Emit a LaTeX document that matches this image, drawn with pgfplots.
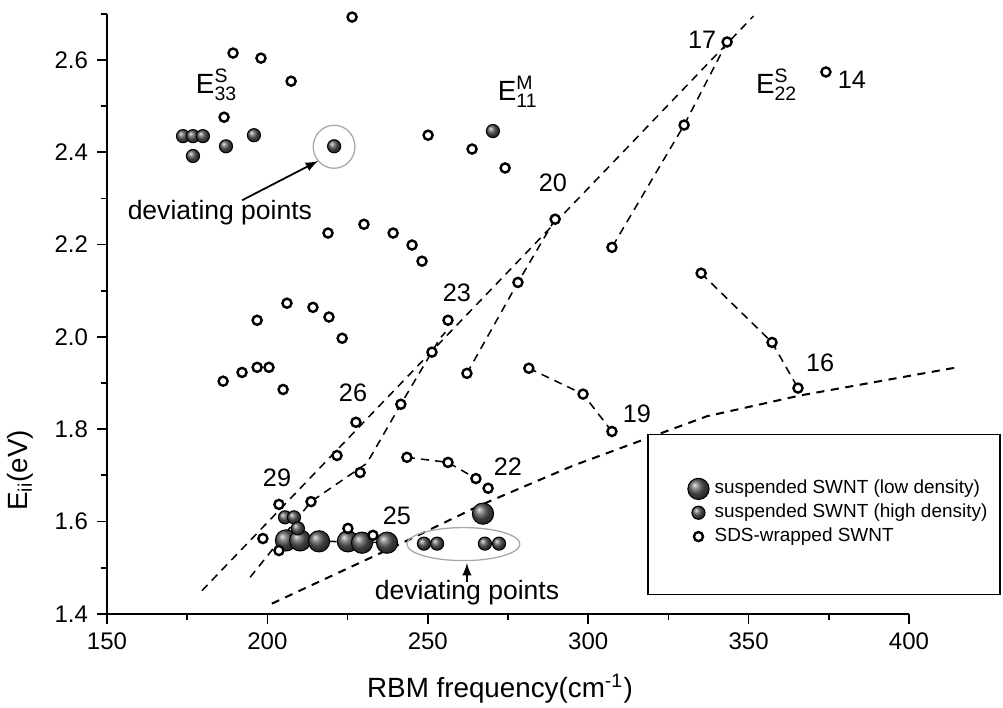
\documentclass[border=0pt]{standalone}
\usepackage{fontspec}
\setmainfont{Liberation Sans}
\usepackage{amsmath}
\usepackage{pgfplots}
\pgfplotsset{compat=1.18}

\begin{document}
\begin{tikzpicture}
\begin{axis}[
  scale only axis, width=317.5pt, height=237.5pt,
  xmin=150, xmax=400, ymin=1.4, ymax=2.7,
  axis lines=left, axis line style={-, line width=0.7pt},
  tick align=outside, major tick length=4pt, minor tick length=2.5pt,
  tick style={line width=0.7pt, black},
  xtick={150,200,250,300,350,400}, minor xtick={175,225,275,325,375},
  ytick={1.4,1.6,1.8,2.0,2.2,2.4,2.6}, minor ytick={1.5,1.7,1.9,2.1,2.3,2.5,2.7},
  yticklabel style={/pgf/number format/.cd, fixed, fixed zerofill, precision=1},
  /pgf/number format/assume math mode=true,
  ticklabel style={font=\fontsize{9.5}{11}\selectfont},
  clip=false,
  legend style={at={(0.723,0.232)}, anchor=north west, draw=none, fill=none,
    font=\fontsize{7.5}{9}\selectfont, row sep=-1.5pt, inner sep=0pt},
  legend cell align=left,
]
% family lines
\addplot[forget plot, black, line width=0.6pt, dash pattern=on 3.2pt off 2.4pt]
  coordinates {(179.6,1.450) (351.5,2.695)};
\addplot[forget plot, black, line width=0.6pt, dash pattern=on 3.2pt off 2.4pt]
  coordinates {(194.6,1.479) (213.6,1.643) (231.0,1.726) (241.6,1.854) (253.8,1.997) (255.5,2.010)};
\addplot[forget plot, black, line width=0.6pt, dash pattern=on 3.2pt off 2.4pt]
  coordinates {(343.3,2.639) (329.9,2.459) (307.4,2.194)};
\addplot[forget plot, black, line width=0.6pt, dash pattern=on 3.2pt off 2.4pt]
  coordinates {(289.7,2.255) (278.1,2.118) (262.2,1.921)};
\addplot[forget plot, black, line width=0.6pt, dash pattern=on 3.2pt off 2.4pt]
  coordinates {(281.5,1.932) (298.4,1.876) (307.4,1.795)};
\addplot[forget plot, black, line width=0.6pt, dash pattern=on 3.2pt off 2.4pt]
  coordinates {(335.2,2.138) (357.3,1.988) (365.4,1.889)};
\addplot[forget plot, black, line width=0.6pt, dash pattern=on 3.2pt off 2.4pt]
  coordinates {(243.5,1.739) (256.3,1.728) (265.0,1.693) (268.8,1.672)};
\addplot[forget plot, black, line width=0.6pt, dash pattern=on 3.2pt off 2.4pt]
  coordinates {(205.8,1.559) (237.3,1.554)};
% lower envelope
\addplot[forget plot, black, line width=0.8pt, dash pattern=on 3.2pt off 2.6pt]
  coordinates {(201.4,1.422) (240.4,1.548) (266.3,1.635) (295.3,1.721)
               (318.3,1.780) (337.0,1.828) (366.0,1.873) (415.0,1.934)};

% legend frame
\draw[line width=0.5pt, fill=white] (axis cs:318.6,1.442) rectangle (axis cs:428.4,1.789);

% suspended, low density
\addplot[only marks, mark=ball, mark size=4.2pt, ball color=black!65,
  mark options={ball color=black!65}]
  coordinates {(205.8,1.559) (210.2,1.559) (216.1,1.557) (225.1,1.557)
               (229.5,1.554) (237.3,1.554) (267.2,1.617)};
\addlegendentry{suspended SWNT (low density)}

% suspended, high density
\addplot[only marks, mark=ball, mark size=2.6pt, ball color=black!65,
  mark options={ball color=black!65}]
  coordinates {(173.7,2.435) (176.8,2.435) (179.9,2.435) (176.8,2.392)
               (187.1,2.413) (195.8,2.437) (220.8,2.413) (270.3,2.446)
               (205.5,1.609) (208.3,1.609) (209.5,1.585)
               (248.8,1.552) (252.9,1.552) (267.8,1.552) (272.2,1.552)};
\addlegendentry{suspended SWNT (high density)}

% SDS-wrapped
\addplot[only marks, mark=*, mark size=1.8pt,
  mark options={fill=white, draw=black, line width=0.95pt}]
  coordinates {
   (226.4,2.693) (189.3,2.615) (198.0,2.604) (207.4,2.554) (186.5,2.476)
   (250.1,2.437) (263.8,2.407) (274.1,2.366)
   (218.9,2.225) (230.1,2.244) (239.2,2.225) (245.1,2.199) (248.2,2.164)
   (289.7,2.255) (307.4,2.194) (329.9,2.459) (343.3,2.639) (374.1,2.574)
   (206.1,2.073) (214.2,2.064) (219.2,2.043) (223.3,1.997) (196.8,2.036)
   (186.2,1.904) (192.1,1.923) (196.8,1.934) (200.5,1.934) (204.9,1.886)
   (256.3,2.036) (251.3,1.967) (262.2,1.921) (278.1,2.118)
   (281.5,1.932) (298.4,1.876) (307.4,1.795)
   (335.2,2.138) (357.3,1.988) (365.4,1.889)
   (241.6,1.854) (227.6,1.815) (221.7,1.743) (228.9,1.706)
   (243.5,1.739) (256.3,1.728) (265.0,1.693) (268.8,1.672)
   (203.6,1.637) (213.6,1.643) (198.6,1.563) (203.6,1.537)
   (225.1,1.585) (232.9,1.570)};
\addlegendentry{SDS-wrapped SWNT}

% deviating points
\draw[gray!70, line width=0.5pt] (axis cs:220.8,2.412) ellipse [x radius=6.5, y radius=0.0466];
\draw[gray!70, line width=0.5pt] (axis cs:261.1,1.551) ellipse [x radius=17.6, y radius=0.0358];
\draw[-latex, line width=0.7pt] (axis cs:192.1,2.296) -- (axis cs:215.8,2.381);
\draw[-latex, line width=0.7pt] (axis cs:262.2,1.468) -- (axis cs:262.2,1.510);
\node[font=\fontsize{10.5}{12}\selectfont] at (axis cs:185.2,2.270) {deviating points};
\node[font=\fontsize{10.5}{12}\selectfont] at (axis cs:262.2,1.446) {deviating points};

% band labels
\node[font=\fontsize{11}{13}\selectfont] at (axis cs:184.2,2.546) {$\text{E}^{\text{S}}_{\text{33}}$};
\node[font=\fontsize{11}{13}\selectfont] at (axis cs:278.1,2.531) {$\text{E}^{\text{M}}_{\text{11}}$};
\node[font=\fontsize{11}{13}\selectfont] at (axis cs:358.8,2.546) {$\text{E}^{\text{S}}_{\text{22}}$};
\begin{scope}[every node/.style={font=\fontsize{10}{12}\selectfont}]
\node at (axis cs:335.5,2.643) {17};
\node at (axis cs:382.2,2.557) {14};
\node at (axis cs:289.0,2.333) {20};
\node at (axis cs:259.1,2.095) {23};
\node at (axis cs:226.7,1.878) {26};
\node at (axis cs:203.0,1.695) {29};
\node at (axis cs:240.4,1.613) {25};
\node at (axis cs:275.0,1.719) {22};
\node at (axis cs:315.2,1.834) {19};
\node at (axis cs:372.3,1.943) {16};
\end{scope}

% axis titles
\node[font=\fontsize{11}{13}\selectfont] at (axis cs:272.5,1.238) {RBM frequency(cm$^{\text{-1}}$)};
\node[font=\fontsize{11}{13}\selectfont, rotate=90] at (axis cs:122.9,1.711) {$\text{E}_{\text{ii}}$(eV)};

\coordinate (bbA) at (axis cs:116.65,1.1965);
\coordinate (bbB) at (axis cs:429.3,2.730);
\end{axis}
\pgfresetboundingbox
\path[use as bounding box] (bbA) rectangle (bbB);
\end{tikzpicture}
\end{document}
